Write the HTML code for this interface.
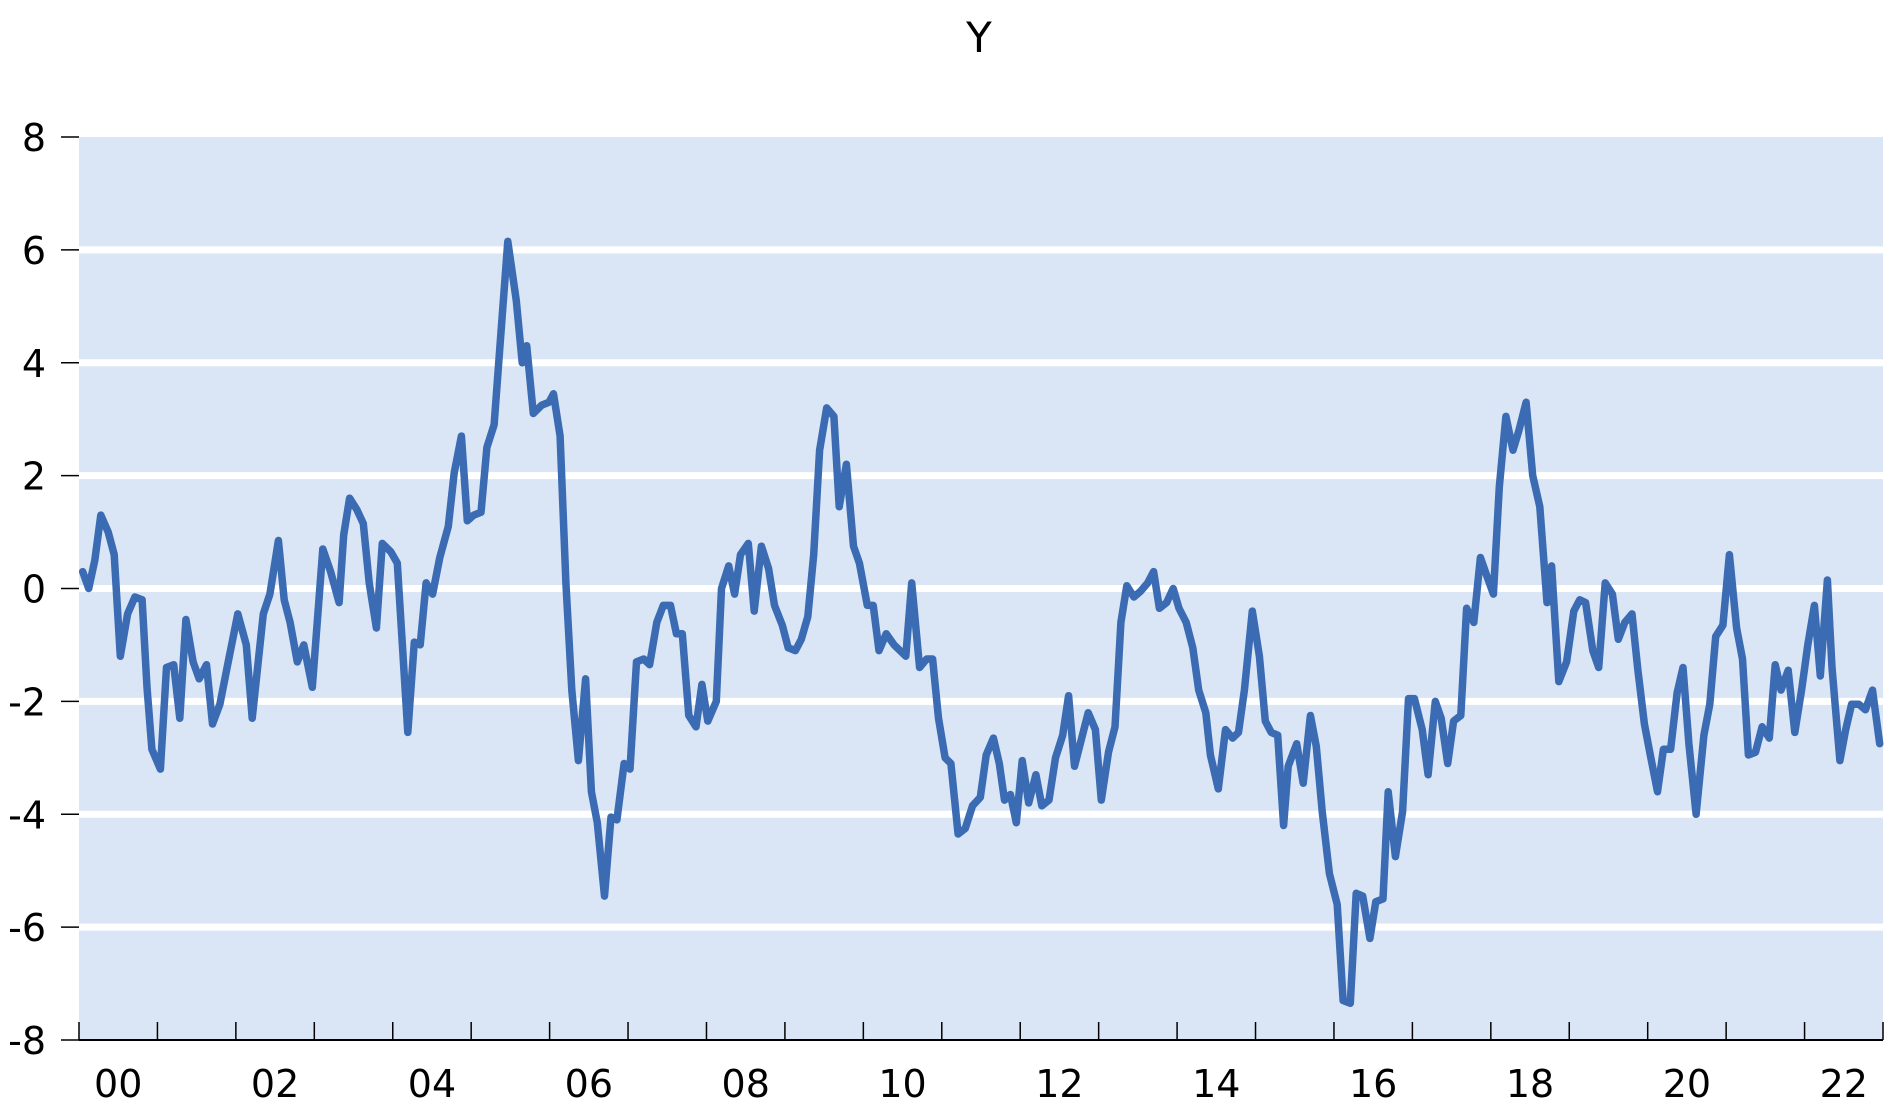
<!DOCTYPE html>
<html><head><meta charset="utf-8"><style>
html,body{margin:0;padding:0;background:#fff;}
svg{display:block;font-family:"DejaVu Sans","Liberation Sans",sans-serif;}
</style></head><body>
<svg id="chart" width="1899" height="1110" viewBox="0 0 1899 1110" xmlns="http://www.w3.org/2000/svg">
<text x="979" y="52" font-size="42" text-anchor="middle" fill="#000">Y</text>
<g id="plot"></g>
</svg>
<script>
const yTicks=[8,6,4,2,0,-2,-4,-6,-8];
const xTickLabels=["00","02","04","06","08","10","12","14","16","18","20","22"];
const months=[0.56,1.49,2.42,3.34,4.46,5.39,6.32,7.43,8.55,9.66,10.4,11.15,12.45,13.38,14.49,15.42,16.35,17.46,18.39,19.5,20.43,21.55,22.66,24.3,25.6,26.5,28.2,29.2,30.5,31.4,32.3,33.4,34.4,35.7,37.3,38.5,39.8,40.5,41.4,42.5,43.5,44.4,45.5,46.4,47.7,48.7,50.3,51.3,52.2,53.1,54.1,55.2,56.5,57.4,58.5,59.4,60.4,61.5,62.4,63.5,64.5,65.6,66.9,67.8,68.5,69.5,70.8,71.9,72.6,73.6,74.5,75.4,76.4,77.5,78.4,79.3,80.4,81.4,82.3,83.4,84.3,85.3,86.4,87.3,88.4,89.4,90.5,91.4,92.3,93.3,94.4,95.3,96.2,97.5,98.3,99.4,100.3,101.2,102.4,103.3,104.4,105.5,106.4,107.6,108.5,109.6,110.5,111.5,112.4,113.3,114.4,115.5,116.3,117.4,118.5,119.4,120.6,121.5,122.4,123.5,124.7,125.6,126.5,127.4,128.6,129.7,130.6,131.5,132.5,133.4,134.5,135.6,136.7,137.9,138.8,139.9,140.8,141.6,142.5,143.4,144.3,145.3,146.4,147.3,148.4,149.4,150.5,151.4,152.3,153.4,154.4,155.5,156.4,157.5,158.5,159.4,160.3,161.4,162.4,163.5,164.4,165.3,166.4,167.4,168.3,169.4,170.4,171.3,172.4,173.1,174.3,175.4,176.5,177.4,178.3,179.5,180.6,181.5,182.4,183.4,184.3,185.0,186.3,187.3,188.4,189.3,190.2,191.3,192.5,193.4,194.5,195.4,196.4,197.5,198.4,199.5,200.3,201.4,202.5,203.4,204.3,205.5,206.4,207.5,208.4,209.4,210.3,211.4,212.3,213.4,214.4,215.3,216.4,217.3,218.3,219.4,220.3,221.4,222.4,223.5,224.6,225.3,226.4,227.6,228.7,229.6,230.5,231.6,232.5,233.5,234.6,235.5,236.5,237.6,238.5,239.5,240.4,241.5,242.4,243.5,244.5,245.4,246.3,247.4,248.6,249.5,250.4,251.5,252.5,253.6,254.5,255.4,256.5,257.5,258.6,259.5,260.4,261.5,262.5,263.6,264.5,265.5,266.4,267.5,268.2,269.4,270.3,271.2,272.3,273.3,274.4,275.5];
const values=[0.3,0.0,0.5,1.3,1.0,0.6,-1.2,-0.45,-0.15,-0.2,-1.75,-2.85,-3.2,-1.4,-1.35,-2.3,-0.55,-1.3,-1.6,-1.35,-2.4,-2.05,-1.4,-0.45,-1.0,-2.3,-0.45,-0.1,0.85,-0.2,-0.6,-1.3,-1.0,-1.75,0.7,0.3,-0.25,0.95,1.6,1.4,1.15,0.1,-0.7,0.8,0.65,0.45,-2.55,-0.95,-1.0,0.1,-0.1,0.55,1.1,2.05,2.7,1.2,1.3,1.35,2.5,2.9,4.45,6.15,5.1,4.0,4.3,3.1,3.25,3.3,3.45,2.7,0.1,-1.8,-3.05,-1.6,-3.6,-4.15,-5.45,-4.05,-4.1,-3.1,-3.2,-1.3,-1.25,-1.35,-0.6,-0.3,-0.3,-0.8,-0.8,-2.25,-2.45,-1.7,-2.35,-2.0,0.0,0.4,-0.1,0.6,0.8,-0.4,0.75,0.35,-0.3,-0.65,-1.05,-1.1,-0.9,-0.5,0.6,2.45,3.2,3.05,1.45,2.2,0.75,0.45,-0.3,-0.3,-1.1,-0.8,-1.0,-1.1,-1.2,0.1,-1.4,-1.25,-1.25,-2.3,-3.0,-3.1,-4.35,-4.25,-3.85,-3.7,-2.95,-2.65,-3.1,-3.75,-3.65,-4.15,-3.05,-3.8,-3.3,-3.85,-3.75,-3.0,-2.6,-1.9,-3.15,-2.65,-2.2,-2.5,-3.75,-2.9,-2.45,-0.6,0.05,-0.15,-0.05,0.1,0.3,-0.35,-0.25,0.0,-0.35,-0.6,-1.05,-1.8,-2.2,-2.95,-3.55,-2.5,-2.65,-2.55,-1.8,-0.4,-1.2,-2.35,-2.55,-2.6,-4.2,-3.15,-2.75,-3.45,-2.25,-2.8,-3.95,-5.05,-5.6,-7.3,-7.35,-5.4,-5.45,-6.2,-5.55,-5.5,-3.6,-4.75,-3.95,-1.95,-1.95,-2.5,-3.3,-2.0,-2.3,-3.1,-2.35,-2.25,-0.35,-0.6,0.55,0.25,-0.1,1.8,3.05,2.45,2.8,3.3,2.0,1.45,-0.25,0.4,-1.65,-1.3,-0.4,-0.2,-0.25,-1.1,-1.4,0.1,-0.1,-0.9,-0.6,-0.45,-1.45,-2.4,-2.95,-3.6,-2.85,-2.85,-1.85,-1.4,-2.75,-4.0,-2.6,-2.05,-0.85,-0.65,0.6,-0.7,-1.25,-2.95,-2.9,-2.45,-2.65,-1.35,-1.8,-1.45,-2.55,-1.75,-1.0,-0.3,-1.55,0.15,-1.4,-3.05,-2.5,-2.05,-2.05,-2.15,-1.8,-2.75];

const NS="http://www.w3.org/2000/svg";
const L=79,R=1883,T=137,B=1040,Y0=2000,Y1=2023,VMIN=-8,VMAX=8;
function xs(yr){return L+(yr-Y0)/(Y1-Y0)*(R-L);}
function ys(v){return T+(VMAX-v)/(VMAX-VMIN)*(B-T);}
function mk(tag,attrs){const e=document.createElementNS(NS,tag);for(const k in attrs)e.setAttribute(k,attrs[k]);return e;}
const g=document.getElementById('plot');

const bg=mk('rect',{x:L,y:T,width:R-L,height:B-T,fill:'#dae6f5'});


g.appendChild(bg);

yTicks.forEach(v=>{
  const y=ys(v);
  if(v>VMIN&&v<VMAX){
    const gl=mk('line',{x1:L,x2:R,y1:y,y2:y,stroke:'#fff','stroke-width':7});
    
    
    g.appendChild(gl);
  }
  const tk=mk('line',{x1:L-18,x2:L,y1:y,y2:y,stroke:'#000','stroke-width':1.5});
  
  
  g.appendChild(tk);
  const t=mk('text',{x:46,y:y+14,'font-size':38,'text-anchor':'end',fill:'#000'});
  t.textContent=String(v);
  
  
  g.appendChild(t);
});

const ax=mk('line',{x1:L,x2:R,y1:B,y2:B,stroke:'#000','stroke-width':2});


g.appendChild(ax);
for(let yr=Y0;yr<=Y1;yr++){
  const x=xs(yr);
  const tk=mk('line',{x1:x,x2:x,y1:B-18,y2:B,stroke:'#000','stroke-width':1.5});
  
  
  g.appendChild(tk);
}
xTickLabels.forEach((lab,i)=>{
  const yr=Y0+2*i+0.5;
  const t=mk('text',{x:xs(yr),y:1097,'font-size':38,'text-anchor':'middle',fill:'#000'});
  t.textContent=lab;
  
  
  g.appendChild(t);
});

const n=Math.min(values.length,months.length);
const pts=[];
for(let i=0;i<n;i++){pts.push(xs(Y0+months[i]/12).toFixed(1)+','+ys(values[i]).toFixed(1));}
const line=mk('polyline',{points:pts.join(' '),fill:'none',stroke:'#3b6bb3','stroke-width':7.5,'stroke-linejoin':'round','stroke-linecap':'round'});


g.appendChild(line);
</script>
</body></html>
